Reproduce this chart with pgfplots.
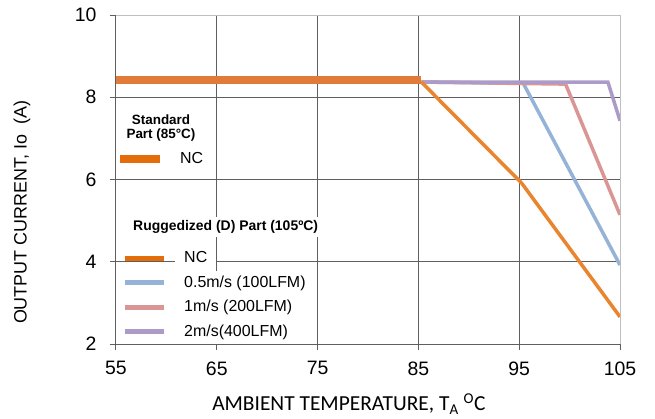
\documentclass[border=0pt]{standalone}
\usepackage{pgfplots}
\pgfplotsset{compat=1.18}
\usepackage{fontspec}
\setmainfont{Liberation Sans}
\newfontfamily\carlito{Carlito}

\definecolor{stdorange}{HTML}{E07B39}
\definecolor{legorange}{HTML}{E46C0A}
\definecolor{rugorange}{HTML}{E9852F}
\definecolor{airblue}{HTML}{95B3D7}
\definecolor{airpink}{HTML}{D99694}
\definecolor{airpurple}{HTML}{AC9BC8}
\definecolor{gridgray}{HTML}{5F5F5F}
\definecolor{framegray}{HTML}{BFBFBF}

\pgfplotsset{
  base/.style={
    scale only axis, width=504bp, height=329bp,
    xmin=55, xmax=105, ymin=2, ymax=10,
  },
}

\begin{document}
\begin{tikzpicture}
\path[use as bounding box] (-116bp,-75bp) rectangle (539bp,344bp);

\begin{axis}[
  base,
  axis x line*=bottom, axis y line*=left,
  axis line style={gridgray, line width=1bp},
  xtick={55,65,75,85,95}, extra x ticks={105},
  ytick={2,4,6,8}, extra y ticks={10},
  extra x tick style={grid style={framegray, line width=1bp}},
  extra y tick style={grid style={framegray, line width=1bp}},
  grid=major,
  grid style={gridgray, line width=1bp},
  tick align=outside, major tick length=6bp,
  tick style={gridgray, line width=1bp},
  ticklabel style={font=\fontsize{19.5}{22}\selectfont},
  xticklabel style={yshift=-8bp},
  yticklabel style={xshift=-10bp},
  /pgf/number format/assume math mode=true,
  xlabel={\carlito AMBIENT TEMPERATURE, T\textsubscript{A} \textsuperscript{O}C},
  xlabel style={font=\fontsize{21.5}{24}\selectfont, at={(axis description cs:0.462,-0.182)}, anchor=center},
  ylabel={OUTPUT CURRENT, Io\ \ (A)},
  ylabel style={font=\fontsize{18}{21}\selectfont, at={(axis description cs:-0.1865,0.40)}, anchor=center, rotate=0},
  legend image code/.code={\draw[#1] (0bp,0bp) -- (40bp,0bp);},
  legend style={at={(axis description cs:0.0,0.562)}, anchor=west,
    draw=none, fill=none, inner sep=0pt, column sep=7bp,
    nodes={fill=white, inner xsep=9bp, inner ysep=4bp, text height=12bp, text depth=4bp,
      font=\fontsize{16}{18}\selectfont}},
]
% ruggedized part, 0.5 m/s
\addplot[airblue, line width=3.5bp, forget plot] coordinates {
  (85.3,8.37) (95.4,8.34) (105,3.92)
};
% ruggedized part, 1 m/s
\addplot[airpink, line width=3.5bp, forget plot] coordinates {
  (85.3,8.37) (99.6,8.32) (105,5.14)
};
% ruggedized part, 2 m/s
\addplot[airpurple, line width=3.5bp, forget plot] coordinates {
  (85.3,8.37) (103.8,8.37) (105,7.43)
};
% ruggedized part, no airflow
\addplot[rugorange, line width=3.5bp, forget plot] coordinates {
  (85.3,8.37) (95.25,5.91) (105,2.66)
};
% standard part, no airflow
\addplot[stdorange, line width=8bp, forget plot] coordinates {
  (55,8.42) (75,8.42) (85.3,8.42)
};
\addlegendimage{legorange, line width=8bp}
\addlegendentry{NC}
\end{axis}

\begin{axis}[
  base, hide axis,
  legend image code/.code={\draw[#1] (0bp,0bp) -- (39bp,0bp);},
  legend cell align=left,
  legend style={at={(axis description cs:0.012,0.298)}, anchor=north west,
    draw=none, fill=none, inner sep=0pt, column sep=9bp, row sep=0pt,
    nodes={fill=white, inner xsep=9bp, inner ysep=4bp, text height=12.5bp, text depth=4bp,
      font=\fontsize{16}{18}\selectfont}},
]
\addlegendimage{legorange, line width=5bp}
\addlegendentry{NC}
\addlegendimage{airblue, line width=5bp}
\addlegendentry{0.5m/s (100LFM)}
\addlegendimage{airpink, line width=5bp}
\addlegendentry{1m/s (200LFM)}
\addlegendimage{airpurple, line width=5bp}
\addlegendentry{2m/s(400LFM)}
\end{axis}

\node[font=\bfseries\fontsize{13.5}{15}\selectfont, align=center] at (45bp,216bp)
  {Standard\\Part (85°C)};
\node[font=\bfseries\fontsize{14}{16}\selectfont, fill=white, anchor=west, inner xsep=2bp]
  at (15bp,117bp) {Ruggedized (D) Part (105ºC)};
\end{tikzpicture}
\end{document}
